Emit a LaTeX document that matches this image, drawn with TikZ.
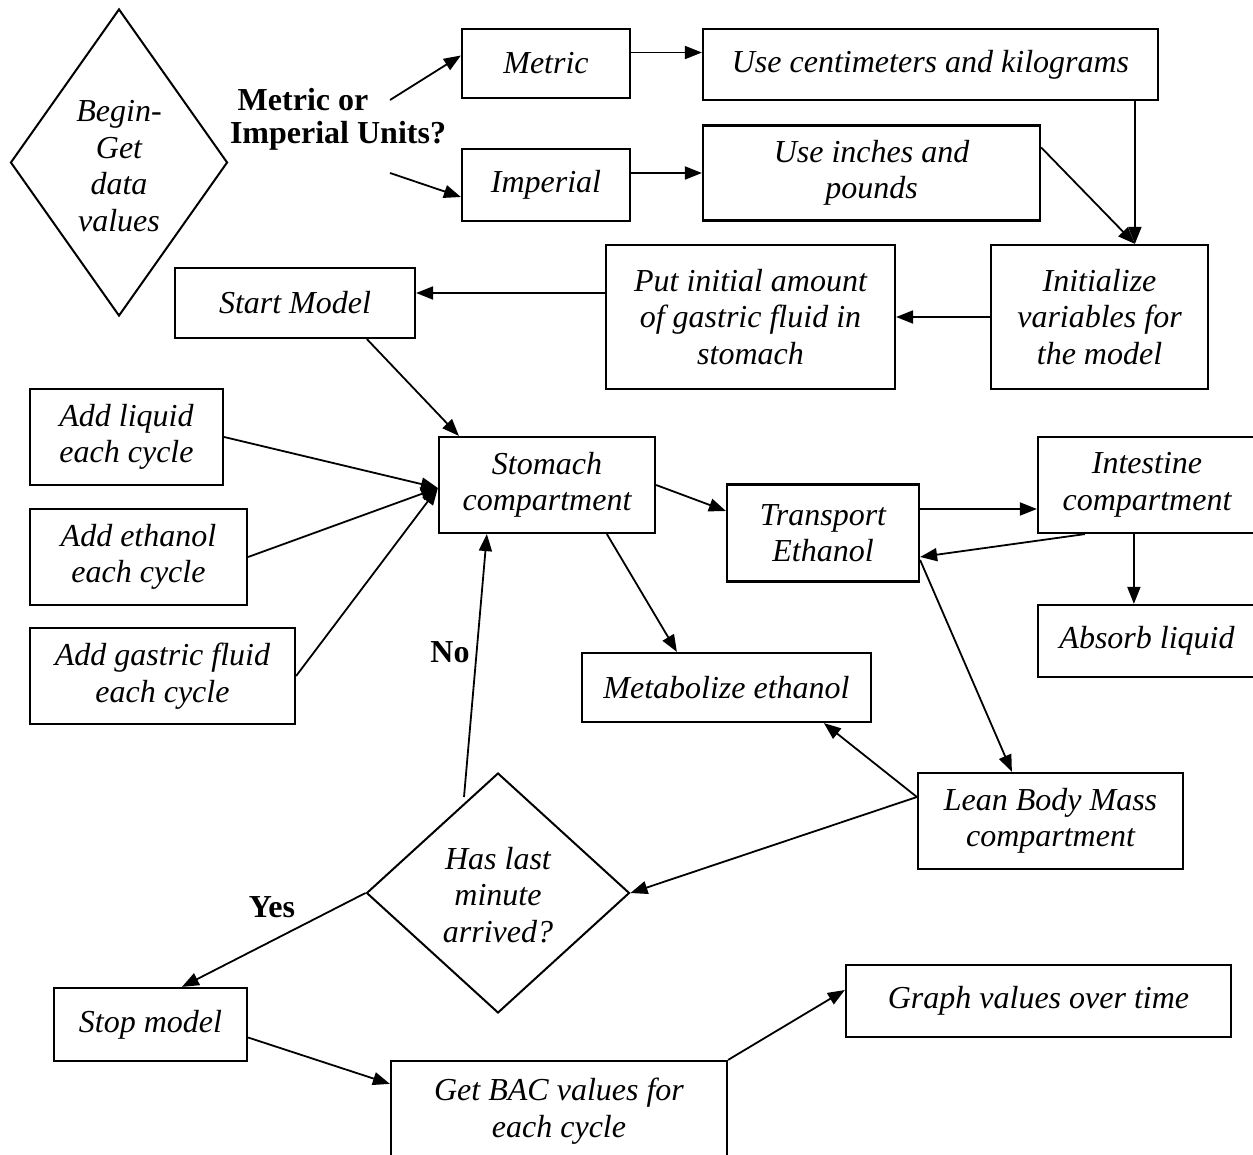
\documentclass[tikz,border=0pt]{standalone}
\usepackage{fontspec}
\setmainfont{Liberation Serif}
\usetikzlibrary{shapes.geometric,arrows.meta,calc}
\begin{document}
\begin{tikzpicture}[x=1pt,y=-1pt,
  every node/.style={font=\fontsize{32}{36.5}\selectfont\itshape, align=center, inner sep=0pt},
  box/.style={draw, line width=2.2pt, rectangle},
  dia/.style={draw, line width=2pt, diamond},
  lbl/.style={font=\fontsize{32}{36.5}\selectfont\bfseries},
  arr/.style={line width=1.8pt, -{Triangle[length=17pt,width=13pt]}}]
\useasboundingbox[fill=white] (0,0) rectangle (1253,1155);

% diamonds
\node[dia, minimum width=217pt, minimum height=307pt] (begin) at (119,162.5) {};
\node (begintxt) at (119,166) {Begin-\\Get\\data\\values};
\node[dia, minimum width=263pt, minimum height=240pt] (has) at (498,893) {};
\node (hastxt) at (498,895) {Has last\\minute\\arrived?};

% labels
\node[lbl] (lab1) at (303,100) {Metric or};
\node[lbl] (lab2) at (338,136) {Imperial Units?};
\node[lbl] (no) at (450,652) {No};
\node[lbl] (yes) at (272,907) {Yes};
\coordinate (q1) at (390,100);
\coordinate (q2) at (390,173);
\coordinate (nostart) at (464,797);

% boxes
\node[box, minimum width=168pt, minimum height=69pt] (metric) at (546,63.5) {Metric};
\node[box, minimum width=455pt, minimum height=71pt] (usecm) at (930.5,64.5) {Use centimeters and kilograms};
\node[box, minimum width=168pt, minimum height=72pt] (imperial) at (546,185) {Imperial};
\node[box, minimum width=337pt, minimum height=95pt] (useinch) at (871.5,173) {Use inches and\\pounds};
\node[box, minimum width=217pt, minimum height=144pt] (init) at (1099.5,317) {Initialize\\variables for\\the model};
\node[box, minimum width=289pt, minimum height=144pt] (putinit) at (750.5,317) {Put initial amount\\of gastric fluid in\\stomach};
\node[box, minimum width=240pt, minimum height=70pt] (start) at (295,303) {Start Model};
\node[box, minimum width=216pt, minimum height=96pt] (stomach) at (547,485) {Stomach\\compartment};
\node[box, minimum width=193pt, minimum height=96pt] (addliq) at (126.5,437) {Add liquid\\each cycle};
\node[box, minimum width=217pt, minimum height=96pt] (addeth) at (138.5,557) {Add ethanol\\each cycle};
\node[box, minimum width=265pt, minimum height=96pt] (addgas) at (162.5,676) {Add gastric fluid\\each cycle};
\node[box, minimum width=192pt, minimum height=97pt] (transport) at (823,533) {Transport\\Ethanol};
\node[box, minimum width=218pt, minimum height=96pt] (intestine) at (1147,485) {Intestine\\compartment};
\node[box, minimum width=218pt, minimum height=72pt] (absorb) at (1147,641) {Absorb liquid};
\node[box, minimum width=289pt, minimum height=69pt] (metab) at (726.5,687.5) {Metabolize ethanol};
\node[box, minimum width=265pt, minimum height=96pt] (lean) at (1050.5,821) {Lean Body Mass\\compartment};
\node[box, minimum width=193pt, minimum height=73pt] (stop) at (150.5,1024.5) {Stop model};
\node[box, minimum width=336pt, minimum height=100pt] (getbac) at (559,1111) {Get BAC values for\\each cycle};
\node[box, minimum width=385pt, minimum height=72pt] (graph) at (1038.5,1001) {Graph values over time};

% connectors
\draw[arr] (q1) -- ($(metric.west)+(0,-8)$);
\draw[arr] (q2) -- ($(imperial.west)+(0,12)$);
\draw[arr] ($(metric.east)+(0,-11)$) -- ($(usecm.west)+(0,-12)$);
\draw[arr] ($(imperial.east)+(0,-12)$) -- (useinch.west);
\draw[arr] ($(usecm.south west)+(433,0)$) -- ($(init.north west)+(145,0)$);
\draw[arr] ($(useinch.north east)+(0,23)$) -- ($(init.north west)+(145,0)$);
\draw[arr] (init.west) -- (putinit.east);
\draw[arr] ($(putinit.west)+(0,-24)$) -- ($(start.east)+(0,-10)$);
\draw[arr] ($(start.south west)+(193,0)$) -- ($(stomach.north west)+(21,0)$);
\draw[arr] (addliq.east) -- ($(stomach.west)+(0,3)$);
\draw[arr] (addeth.east) -- ($(stomach.west)+(0,3)$);
\draw[arr] (addgas.east) -- ($(stomach.west)+(0,3)$);
\draw[arr] (nostart) -- ($(stomach.south west)+(49,0)$);
\draw[arr] (stomach.east) -- ($(transport.west)+(0,-22)$);
\draw[arr] ($(stomach.south west)+(169,0)$) -- ($(metab.north west)+(96,0)$);
\draw[arr] ($(transport.east)+(0,-24)$) -- ($(intestine.west)+(0,24)$);
\draw[arr] ($(intestine.south west)+(48,0)$) -- ($(transport.east)+(0,24)$);
\draw[arr] ($(intestine.south west)+(97,0)$) -- ($(absorb.north west)+(97,0)$);
\draw[arr] ($(transport.east)+(0,27)$) -- ($(lean.north west)+(95,0)$);
\draw[arr] ($(lean.west)+(0,-24)$) -- ($(metab.south west)+(243,0)$);
\draw[arr] ($(lean.west)+(0,-24)$) -- (has.east);
\draw[arr] (has.west) -- ($(stop.north west)+(129,0)$);
\draw[arr] ($(stop.east)+(0,13)$) -- ($(getbac.north west)+(0,24)$);
\draw[arr] (getbac.north east) -- ($(graph.west)+(0,-11)$);
\end{tikzpicture}
\end{document}
